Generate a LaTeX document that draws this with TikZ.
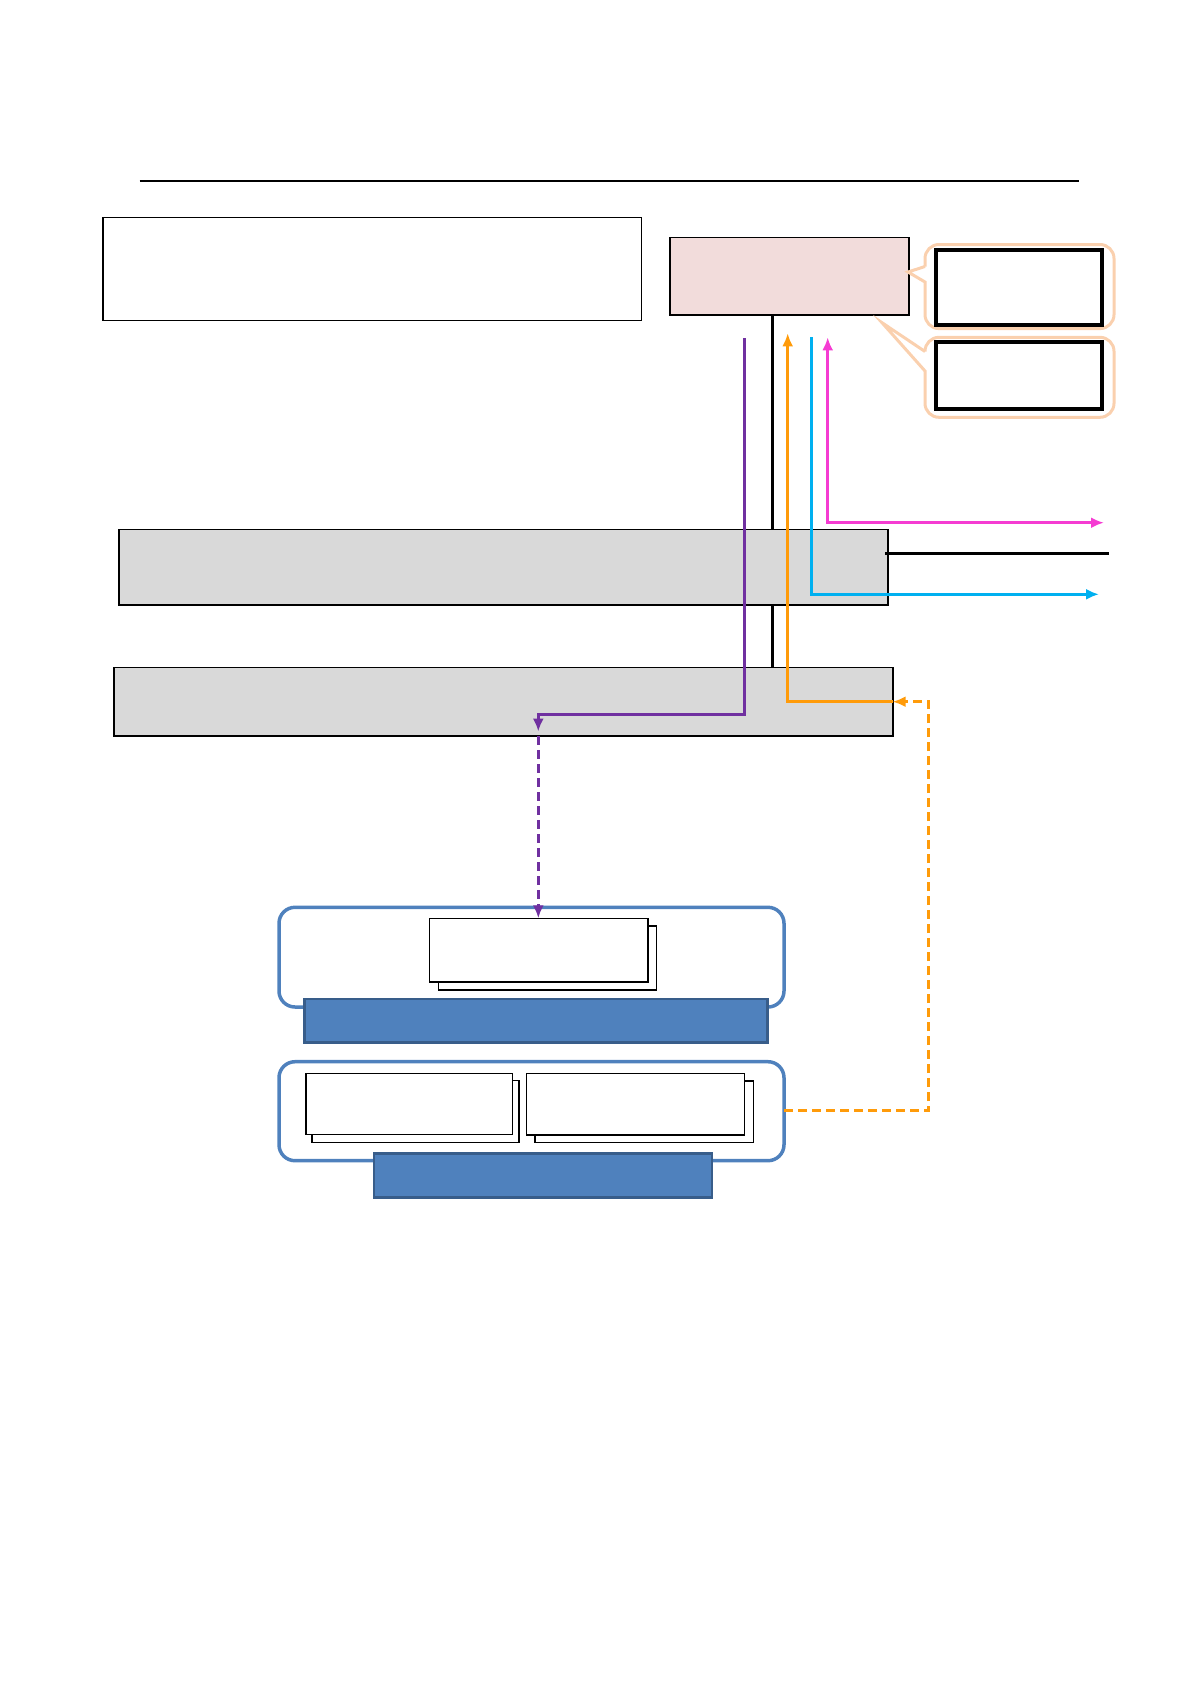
\documentclass[tikz,border=0pt]{standalone}
\usetikzlibrary{arrows.meta,fit}
\definecolor{pinkfill}{RGB}{242,220,219}
\definecolor{greyfill}{RGB}{217,217,217}
\definecolor{peach}{RGB}{250,208,174}
\definecolor{lpurple}{RGB}{112,48,160}
\definecolor{lorange}{RGB}{255,155,10}
\definecolor{lcyan}{RGB}{0,176,240}
\definecolor{lmagenta}{RGB}{245,60,210}
\definecolor{barblue}{RGB}{79,129,189}
\definecolor{bardark}{RGB}{56,93,138}
\begin{document}
\begin{tikzpicture}[x=1pt,y=-1pt,
  box/.style={inner sep=0pt, outer sep=0pt},
  plainbox/.style={box, draw=black, line width=1.3pt, fill=white},
  pinkbox/.style={box, draw=black, line width=1.8pt, fill=pinkfill},
  greybox/.style={box, draw=black, line width=1.8pt, fill=greyfill},
  thickbox/.style={box, draw=black, line width=4pt, fill=white},
  callout/.style={draw=peach, line width=3pt},
  container/.style={box, draw=barblue, line width=3.5pt, rounded corners=16pt, fill=none},
  bluebar/.style={box, draw=bardark, line width=2.5pt, fill=barblue},
  stackbox/.style={box, draw=black, line width=1.6pt, fill=white},
  tip/.style={-{Latex[length=13pt,width=11pt]}},
  lp/.style={draw=lpurple, line width=3pt},
  lo/.style={draw=lorange, line width=3pt},
  lc/.style={draw=lcyan, line width=3pt},
  lm/.style={draw=lmagenta, line width=3pt},
  lk/.style={draw=black, line width=3pt},
  dashline/.style={dash pattern=on 9pt off 5pt, line width=3pt}
]
\useasboundingbox (0,0) rectangle (1190,1684);

% top rule
\coordinate (ruleL) at (139.6,180.8);
\coordinate (ruleR) at (1079.4,180.8);
\draw[line width=2.2pt] (ruleL) -- (ruleR);

% top-left box
\node[fit={(103,217.5) (641.2,320.5)}, plainbox] (tl) {};

% pink box
\node[fit={(670,237.4) (909,315)}, pinkbox] (pk) {};

% callouts
\draw[callout] (925,266.5) -- (908,272) -- (925,282) [rounded corners=14pt] -- (925,328.6) -- (1114,328.6) -- (1114,244.5) -- (925,244.5) -- (925,266.5);
\draw[callout] (925,351.5) -- (882,322.7) -- (925,371) [rounded corners=14pt] -- (925,417.3) -- (1114,417.3) -- (1114,337.3) -- (925,337.3) -- (925,351.5);
\node[fit={(936,250) (1101.5,324.5)}, thickbox] (cb1) {};
\node[fit={(936,341.5) (1101.5,408.5)}, thickbox] (cb2) {};

% black vertical trunk (behind grey boxes)
\coordinate (kTop) at (772.3,315);
\coordinate (kBot) at (772.3,668);
\draw[lk] (kTop) -- (kBot);

% grey boxes
\node[fit={(119.2,529.4) (888.3,604.8)}, greybox] (g1) {};
\node[fit={(113.8,667.5) (892.6,736)}, greybox] (g2) {};

% black horizontal
\coordinate (kh1) at (885,553.3);
\coordinate (kh2) at (1109.3,553.3);
\draw[lk] (kh1) -- (kh2);

% purple
\coordinate (pTop) at (744,338.3);
\coordinate (pCorner) at (744,714);
\coordinate (pTurn) at (538.3,714);
\coordinate (pTip) at (538.3,731.5);
\draw[lp, tip] (pTop) -- (pCorner) -- (pTurn) -- (pTip);

% orange
\coordinate (oTop) at (787.7,333.3);
\coordinate (oCorner) at (787.7,701.7);
\coordinate (oIn) at (892.6,701.7);
\draw[lo, tip] (oIn) -- (oCorner) -- (oTop);

% cyan
\coordinate (cTop) at (811.7,337.3);
\coordinate (cCorner) at (811.7,594.3);
\coordinate (cEnd) at (1099,594.3);
\draw[lc, tip] (cTop) -- (cCorner) -- (cEnd);

% magenta
\coordinate (mTop) at (827.7,337.3);
\coordinate (mCorner) at (827.7,522.7);
\coordinate (mEnd) at (1104,522.7);
\draw[lm, {Latex[length=13pt,width=11pt]}-{Latex[length=13pt,width=11pt]}] (mTop) -- (mCorner) -- (mEnd);

% bottom group 1
\node[fit={(279,907.3) (784,1007)}, container] (c1) {};
\node[fit={(304.5,999) (767.5,1042.5)}, bluebar] (b1) {};
\node[fit={(438.5,926) (656.5,990)}, stackbox] (s1b) {};
\node[fit={(429.5,918.3) (648,982)}, stackbox] (s1) {};

% bottom group 2
\node[fit={(279,1061.7) (784,1160.7)}, container] (c2) {};
\node[fit={(374,1153.3) (712,1197.3)}, bluebar] (b2) {};
\node[fit={(311.7,1080.5) (518.7,1142.3)}, stackbox] (s2b) {};
\node[fit={(305.7,1073.3) (512.3,1134.3)}, stackbox] (s2) {};
\node[fit={(534.9,1080.7) (753.3,1142.3)}, stackbox] (s3b) {};
\node[fit={(526.3,1073.3) (744.3,1135)}, stackbox] (s3) {};

% purple dashed
\coordinate (pdTop) at (538.3,736);
\coordinate (pdTip) at (538.3,918.3);
\draw[lp, dashline, tip] (pdTop) -- (pdTip);

% orange dashed
\coordinate (odR) at (928.3,1110.7);
\coordinate (odRT) at (928.3,701.7);
\coordinate (odStart) at (784,1110.7);
\draw[lo, dashline, tip] (odStart) -- (odR) -- (odRT) -- (oIn);

\end{tikzpicture}
\end{document}
